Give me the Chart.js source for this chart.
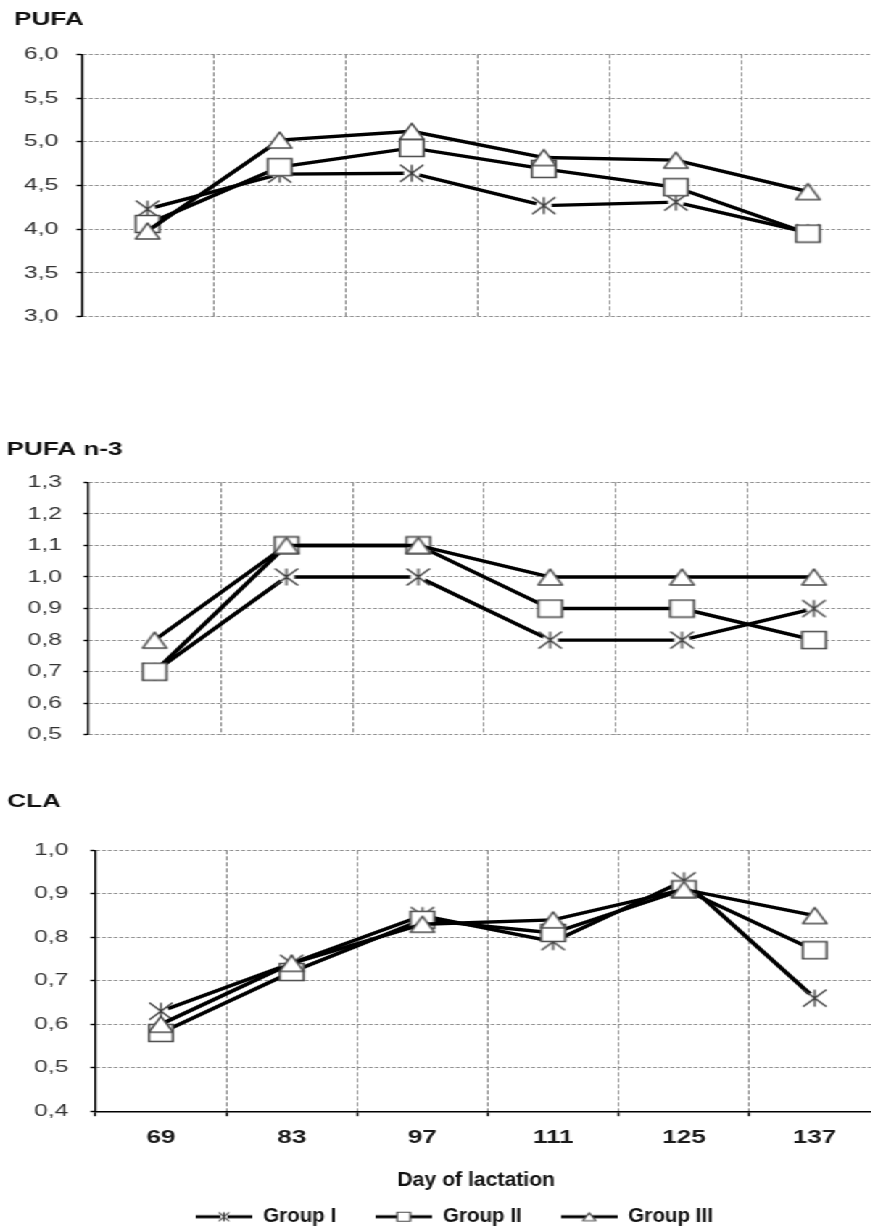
<!DOCTYPE html>
<html><head><meta charset="utf-8">
<script src="https://cdn.jsdelivr.net/npm/chart.js@4.4.1/dist/chart.umd.min.js"></script>
<style>
html,body{margin:0;padding:0;background:#fff;overflow:hidden;width:871px;height:1230px;}
#wrap{position:absolute;left:0;top:0;width:620px;height:1240px;transform:scaleX(1.45);transform-origin:0 0;}
#wrap canvas{position:absolute;left:0;}
</style></head><body>
<div id="wrap">
<canvas id="c1" width="620" height="340" style="top:0px"></canvas>
<canvas id="c2" width="620" height="340" style="top:420px"></canvas>
<canvas id="c3" width="620" height="466" style="top:770px"></canvas>
</div>
<script>
// ---- data ----
const days = ['69', '83', '97', '111', '125', '137'];
const groupNames = ['Group I', 'Group II', 'Group III'];
const chartTitles = ['PUFA', 'PUFA n-3', 'CLA'];
const xAxisTitle = 'Day of lactation';

const pufaGroupI   = [4.23, 4.63, 4.64, 4.27, 4.31, 3.96];
const pufaGroupII  = [4.06, 4.71, 4.93, 4.69, 4.48, 3.95];
const pufaGroupIII = [3.98, 5.02, 5.12, 4.82, 4.79, 4.43];

const n3GroupI   = [0.7, 1.0, 1.0, 0.8, 0.8, 0.9];
const n3GroupII  = [0.7, 1.1, 1.1, 0.9, 0.9, 0.8];
const n3GroupIII = [0.8, 1.1, 1.1, 1.0, 1.0, 1.0];

const claGroupI   = [0.63, 0.74, 0.85, 0.79, 0.93, 0.66];
const claGroupII  = [0.58, 0.72, 0.84, 0.81, 0.91, 0.77];
const claGroupIII = [0.60, 0.74, 0.83, 0.84, 0.91, 0.85];

const pufaTickValues = [3.0, 3.5, 4.0, 4.5, 5.0, 5.5, 6.0];
const pufaTickLabels = ['3,0', '3,5', '4,0', '4,5', '5,0', '5,5', '6,0'];
const n3TickValues = [0.5, 0.6, 0.7, 0.8, 0.9, 1.0, 1.1, 1.2, 1.3];
const n3TickLabels = ['0,5', '0,6', '0,7', '0,8', '0,9', '1,0', '1,1', '1,2', '1,3'];
const claTickValues = [0.4, 0.5, 0.6, 0.7, 0.8, 0.9, 1.0];
const claTickLabels = ['0,4', '0,5', '0,6', '0,7', '0,8', '0,9', '1,0'];

// ---- marker images ----
function mk(w, h, fn) { const c = document.createElement('canvas'); c.width = w; c.height = h; fn(c.getContext('2d')); return c; }
function star(g, cx, cy, hw, hh, lw) {
  g.fillStyle = '#fff'; g.beginPath(); g.ellipse(cx, cy, hw * 0.7, hh * 0.7, 0, 0, Math.PI * 2); g.fill();
  g.strokeStyle = '#3a3a3a'; g.lineWidth = lw; g.beginPath();
  g.moveTo(cx - hw, cy - hh); g.lineTo(cx + hw, cy + hh);
  g.moveTo(cx + hw, cy - hh); g.lineTo(cx - hw, cy + hh);
  g.moveTo(cx, cy - hh); g.lineTo(cx, cy + hh); g.stroke();
}
function square(g, cx, cy, hw, hh, lw) {
  g.fillStyle = '#fff'; g.strokeStyle = '#4a4a4a'; g.lineWidth = lw;
  g.beginPath(); g.rect(cx - hw, cy - hh, hw * 2, hh * 2); g.fill(); g.stroke();
}
function tri(g, cx, cy, hw, hh, lw) {
  g.fillStyle = '#fff'; g.strokeStyle = '#4a4a4a'; g.lineWidth = lw; g.lineJoin = 'round';
  g.beginPath(); g.moveTo(cx, cy - hh); g.lineTo(cx + hw, cy + hh); g.lineTo(cx - hw, cy + hh); g.closePath(); g.fill(); g.stroke();
}
const markers = [
  mk(20, 20, g => star(g, 10, 10, 8, 8.5, 1.3)),
  mk(20, 20, g => square(g, 10, 10, 8.25, 8.5, 1.6)),
  mk(20, 20, g => tri(g, 10, 10, 8.25, 8, 1.6))
];
function legendIcon(drawMarker) {
  return mk(39, 16, g => {
    g.strokeStyle = '#000'; g.lineWidth = 3.2; g.beginPath(); g.moveTo(0, 8); g.lineTo(39, 8); g.stroke();
    drawMarker(g);
  });
}
const legendIcons = [
  legendIcon(g => star(g, 19.5, 8, 3.6, 4.5, 1.1)),
  legendIcon(g => square(g, 19.5, 8, 4.5, 4.5, 1.2)),
  legendIcon(g => tri(g, 19.5, 8, 4.5, 4, 1.2))
];

// ---- helpers ----
const FAMILY = "'Liberation Sans', Arial, sans-serif";
Chart.defaults.font.family = FAMILY;
const GRID = '#8c8c8c';

// legend with condensed bold text, drawn on the chart canvas
const groupLegend = {
  id: 'groupLegend',
  afterDraw(chart, args, opts) {
    if (!opts || !opts.display) return;
    const ctx = chart.ctx;
    const k = opts.squeeze;
    ctx.save();
    ctx.font = 'bold ' + opts.size + 'px ' + FAMILY;
    ctx.textBaseline = 'middle';
    ctx.textAlign = 'left';
    ctx.fillStyle = '#111';
    const items = groupNames.map((name, i) => ({ name, icon: legendIcons[i], tw: ctx.measureText(name).width * k }));
    const iconW = 39, gapIcon = 7.5, gapItem = 27;
    const total = items.reduce((s, it) => s + iconW + gapIcon + it.tw, 0) + gapItem * (items.length - 1);
    let x = opts.centerX - total / 2;
    const y = chart.height - opts.fromBottom;
    items.forEach(it => {
      ctx.drawImage(it.icon, x, y - it.icon.height / 2);
      x += iconW + gapIcon;
      ctx.save(); ctx.translate(x, y); ctx.scale(k, 1); ctx.fillText(it.name, 0, 0); ctx.restore();
      x += it.tw + gapItem;
    });
    ctx.restore();
  }
};
// condensed rendering of the x-axis title
const squeezeXTitle = {
  id: 'squeezeXTitle',
  afterUpdate(chart) {
    const s = chart.scales.x;
    if (!s || s._squeezed) return;
    const orig = s.drawTitle.bind(s);
    s.drawTitle = function () {
      const ctx = this.ctx;
      const c = (this.left + this.right) / 2;
      ctx.save(); ctx.translate(c - 8, 0); ctx.scale(0.73, 1); ctx.translate(-c, 0);
      orig();
      ctx.restore();
    };
    s._squeezed = true;
  }
};

function makeDatasets(a, b, c) {
  return [a, b, c].map((d, i) => ({
    label: groupNames[i], data: d, borderColor: '#000', backgroundColor: '#000',
    borderWidth: 3.4, tension: 0, fill: false, pointStyle: markers[i], pointRadius: 8,
    order: 2 - i
  }));
}

function build(id, cfg) {
  const isLast = !!cfg.showX;
  return new Chart(document.getElementById(id), {
    type: 'line',
    data: { labels: days, datasets: makeDatasets(...cfg.series) },
    plugins: isLast ? [groupLegend, squeezeXTitle] : [],
    options: {
      responsive: false, animation: false, events: [],
      layout: { padding: cfg.padding },
      plugins: {
        title: {
          display: true, text: cfg.title, align: 'start', color: '#111',
          font: { size: 18, weight: 'bold' }, padding: cfg.titlePad
        },
        tooltip: { enabled: false },
        legend: { display: false },
        groupLegend: { display: isLast, squeeze: 0.71, size: 20, centerX: 313.3, fromBottom: 19.3 }
      },
      scales: {
        x: {
          type: 'category', offset: true,
          grid: { offset: true, color: (c) => c.index === 0 ? 'rgba(0,0,0,0)' : GRID, lineWidth: 1,
                  drawTicks: isLast, tickLength: 5, tickColor: '#000', tickWidth: 1.4 },
          border: { display: isLast, color: '#000', width: 1.4, dash: [4, 2] },
          ticks: { display: isLast, color: '#1a1a1a', padding: 11.2, font: { size: 18, weight: 'bold' } },
          title: isLast ? { display: true, text: xAxisTitle, color: '#111',
            font: { size: 20, weight: 'bold' }, padding: { top: 7.8, bottom: 4 } } : { display: false }
        },
        y: {
          min: cfg.tickValues[0], max: cfg.tickValues[cfg.tickValues.length - 1],
          afterFit: (s) => { s.width = cfg.yWidth; },
          afterBuildTicks: (s) => { s.ticks = cfg.tickValues.map(v => ({ value: v })); },
          grid: { color: GRID, lineWidth: 1, tickLength: 3.5, tickColor: '#000', tickWidth: 1.4 },
          border: { display: true, color: '#000', width: 1.4, dash: [2.5, 1.5] },
          ticks: { color: '#333', padding: cfg.yPad, font: { size: 17 },
            callback: (v, i) => cfg.tickLabels[i] }
        }
      }
    }
  });
}

build('c1', {
  title: chartTitles[0], series: [pufaGroupI, pufaGroupII, pufaGroupIII],
  tickValues: pufaTickValues, tickLabels: pufaTickLabels,
  padding: { left: 9.7, right: 17.2, top: 0, bottom: 23.3 },
  titlePad: { top: 8.9, bottom: 23.8 }, yWidth: 46.5, yPad: 12.5
});
build('c2', {
  title: chartTitles[1], series: [n3GroupI, n3GroupII, n3GroupIII],
  tickValues: n3TickValues, tickLabels: n3TickLabels,
  padding: { left: 4.6, right: 13.2, top: 0, bottom: 17 },
  titlePad: { top: 19.2, bottom: 21.5 }, yWidth: 56.5, yPad: 15
});
build('c3', {
  title: chartTitles[2], series: [claGroupI, claGroupII, claGroupIII],
  tickValues: claTickValues, tickLabels: claTickLabels,
  padding: { left: 5, right: 13.1, top: 0, bottom: 40 },
  titlePad: { top: 21.2, bottom: 37.5 }, yWidth: 60.9, yPad: 15.3, showX: true
});
</script>
</body></html>
